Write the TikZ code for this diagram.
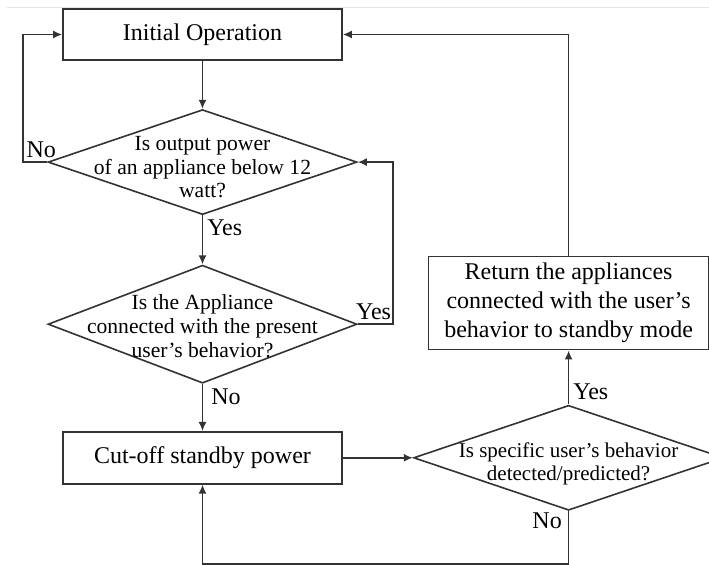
\documentclass[tikz,border=0pt]{standalone}
\usepackage{fontspec}
\setmainfont{Liberation Serif}
\usepackage{tikz}
\usetikzlibrary{shapes.geometric,positioning,arrows.meta}

\newcommand{\boxfont}{\fontsize{12}{14.5}\selectfont}
\newcommand{\askfont}{\fontsize{10.8}{11.8}\selectfont}
\colorlet{linecol}{black!80}

\tikzset{
	box/.style={draw=linecol, line width=0.8pt, inner sep=0pt, minimum width=139.5pt, minimum height=25.5pt, font=\boxfont},
	decision/.style={draw=linecol, line width=0.8pt, diamond, inner sep=0pt, minimum width=154.5pt, minimum height=52.5pt},
	question/.style={align=center, inner sep=0pt, font=\askfont},
	answer/.style={inner sep=2pt, font=\boxfont},
	line/.style={draw=linecol, line width=0.8pt},
	arrow/.style={line, -{Latex[length=4.5pt,width=4pt]}},
}

\begin{document}
\begin{tikzpicture}
		\useasboundingbox (-101.25pt,-265.25pt) rectangle (253.25pt,17.25pt);
		\draw[gray!20, line width=0.5pt] (-97.75pt,13.25pt) -- (253.25pt,13.25pt);

		\node[box] (init) {Initial Operation};
		\node[decision, below=24pt of init] (ask1) {};
		\node[question] (ask1text) at ([yshift=-2.5pt]ask1.center) {Is output power\\of an appliance below 12\\watt?};
		\node[decision, minimum height=59pt, below=24.5pt of ask1] (ask2) {};
		\node[question] (ask2text) at ([yshift=-1pt]ask2.center) {Is the Appliance\\connected with the present\\user's behavior?};
		\node[box, minimum height=26pt, below=23.5pt of ask2] (cutoff) {Cut-off standby power};
		\node[decision, minimum width=155pt, right=35pt of cutoff] (ask3) {};
		\node[question, font=\fontsize{10.5}{11.5}\selectfont] (ask3text) at ([yshift=-3pt]ask3.center) {Is specific user's behavior\\detected/predicted?};
		\node[box, minimum width=140pt, minimum height=46.5pt, align=center, above=27pt of ask3] (standby) {Return the appliances\\connected with the user's\\behavior to standby mode};

		\draw[arrow] (init) -- (ask1);
		\draw[arrow] (ask1) -- node[answer, right, pos=0.25] (yes1) {Yes} (ask2);
		\draw[arrow] (ask2) -- node[answer, right, pos=0.28, inner sep=4pt] (no2) {No} (cutoff);
		\draw[arrow] (ask1.west) -- node[answer, above, pos=0.25] (no1) {No} ++(-12pt,0) |- (init.west);
		\draw[arrow] (ask2.east) -- node[answer, above, pos=0.45] (yes2) {Yes} ++(17.5pt,0) |- (ask1.east);
		\draw[arrow] (cutoff) -- (ask3);
		\draw[arrow] (ask3) -- node[answer, right, pos=0.24] (yes3) {Yes} (standby);
		\draw[arrow] (standby.north) |- (init.east);
		\draw[arrow] (ask3.south) -- node[answer, left, pos=0.18, inner sep=3pt] (no3) {No} ++(0,-26.5pt) -| (cutoff.south);
	\end{tikzpicture}
\end{document}
